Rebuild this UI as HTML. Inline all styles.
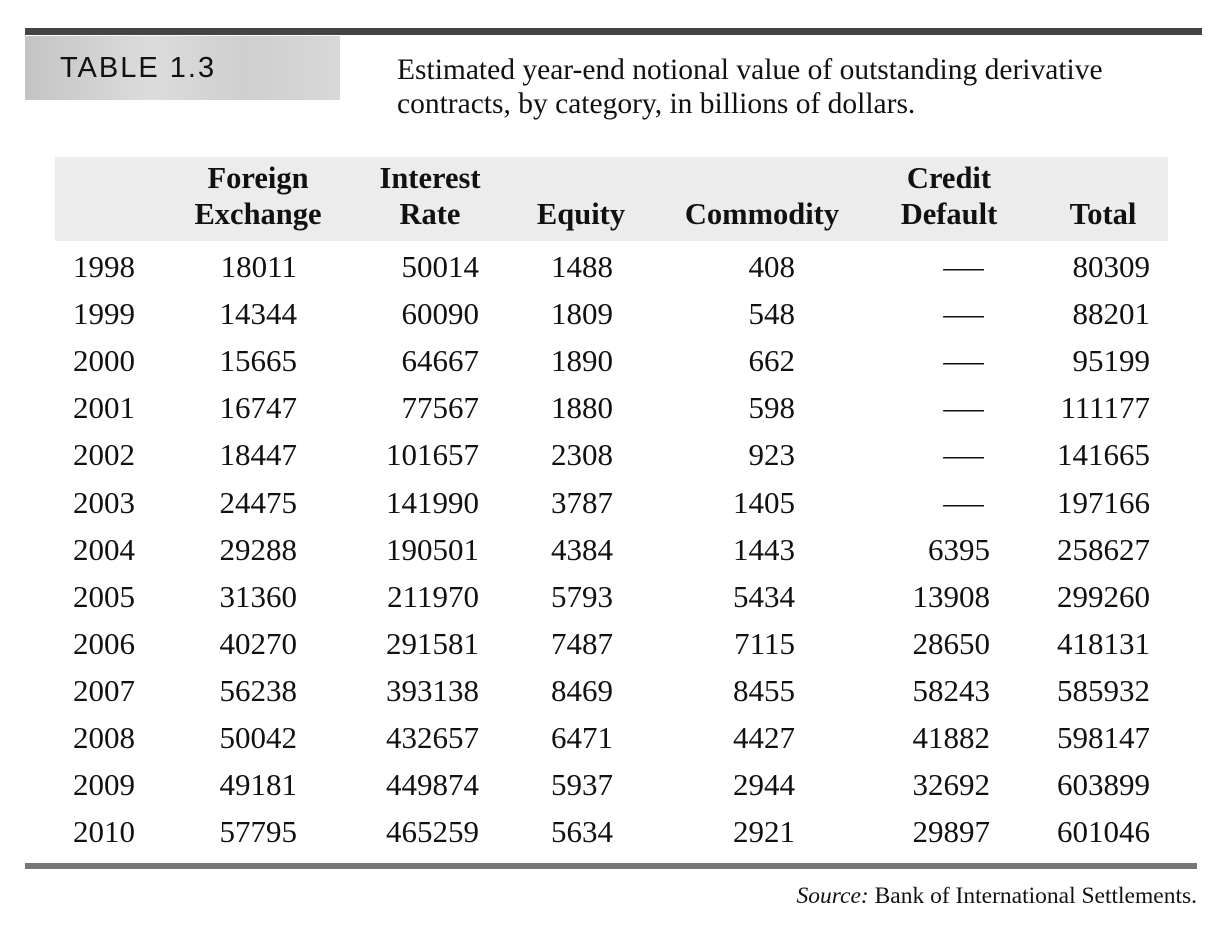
<!DOCTYPE html>
<html><head><meta charset="utf-8"><style>
body{margin:0;background:#fff;width:1222px;height:928px;position:relative;overflow:hidden;font-family:"Liberation Serif",serif;color:#111}
.a{position:absolute;white-space:nowrap}
.num{font-size:31px;line-height:30px}
.hd{font-size:30.5px;font-weight:bold;line-height:36px;text-align:center}
</style></head><body>
<div class="a" style="left:25px;top:28px;width:1177px;height:7px;background:#444"></div>
<div class="a" style="left:25px;top:36px;width:315px;height:64px;background:linear-gradient(90deg,#c4c4c4,#dcdcdc 40%,#cfcfcf 70%,#d8d8d8)"></div>
<div class="a" style="left:60px;top:52px;font-family:'Liberation Sans',sans-serif;font-size:29px;letter-spacing:2px;color:#111">TABLE 1.3</div>
<div class="a" style="left:397px;top:53px;font-size:29.5px;line-height:34px">Estimated year-end notional value of outstanding derivative<br>contracts, by category, in billions of dollars.</div>
<div class="a" style="left:55px;top:157px;width:1113px;height:84px;background:#ececec"></div>
<div id="tbl"></div>
<div class="a" style="left:25px;top:863px;width:1172px;height:6px;background:#777"></div>
<div class="a" style="right:25px;top:883px;font-size:23.5px"><i>Source:</i> Bank of International Settlements.</div>
<script>
const years=[1998,1999,2000,2001,2002,2003,2004,2005,2006,2007,2008,2009,2010];
const fx=[18011,14344,15665,16747,18447,24475,29288,31360,40270,56238,50042,49181,57795];
const ir=[50014,60090,64667,77567,101657,141990,190501,211970,291581,393138,432657,449874,465259];
const eq=[1488,1809,1890,1880,2308,3787,4384,5793,7487,8469,6471,5937,5634];
const cm=[408,548,662,598,923,1405,1443,5434,7115,8455,4427,2944,2921];
const cd=[null,null,null,null,null,null,6395,13908,28650,58243,41882,32692,29897];
const tot=[80309,88201,95199,111177,141665,197166,258627,299260,418131,585932,598147,603899,601046];
const headers=["Foreign<br>Exchange","Interest<br>Rate","<br>Equity","<br>Commodity","Credit<br>Default","<br>Total"];
const t=document.getElementById('tbl');
const hc=[258,430,581,762,949,1103];
headers.forEach((h,i)=>{const d=document.createElement('div');d.className='a hd';


d.style.left=(hc[i]-110)+'px';d.style.width='220px';d.style.top='160px';d.innerHTML=h;t.appendChild(d);});
const cols=[fx,ir,eq,cm,cd,tot];const rights=[297,479,613,795,990,1150];
years.forEach((y,r)=>{const top=252+r*47.1;
const yd=document.createElement('div');yd.className='a num';


yd.style.left='73px';yd.style.top=top+'px';yd.textContent=y;t.appendChild(yd);
cols.forEach((c,i)=>{const d=document.createElement('div');d.className='a num';


d.style.top=top+'px';
if(c[r]==null){d.textContent='—';d.style.left=(rights[i]-42)+'px';d.style.transform='scaleX(1.3)';}
else{d.textContent=c[r];d.style.right=(1222-rights[i])+'px';}
t.appendChild(d);});});
</script>
</body></html>
